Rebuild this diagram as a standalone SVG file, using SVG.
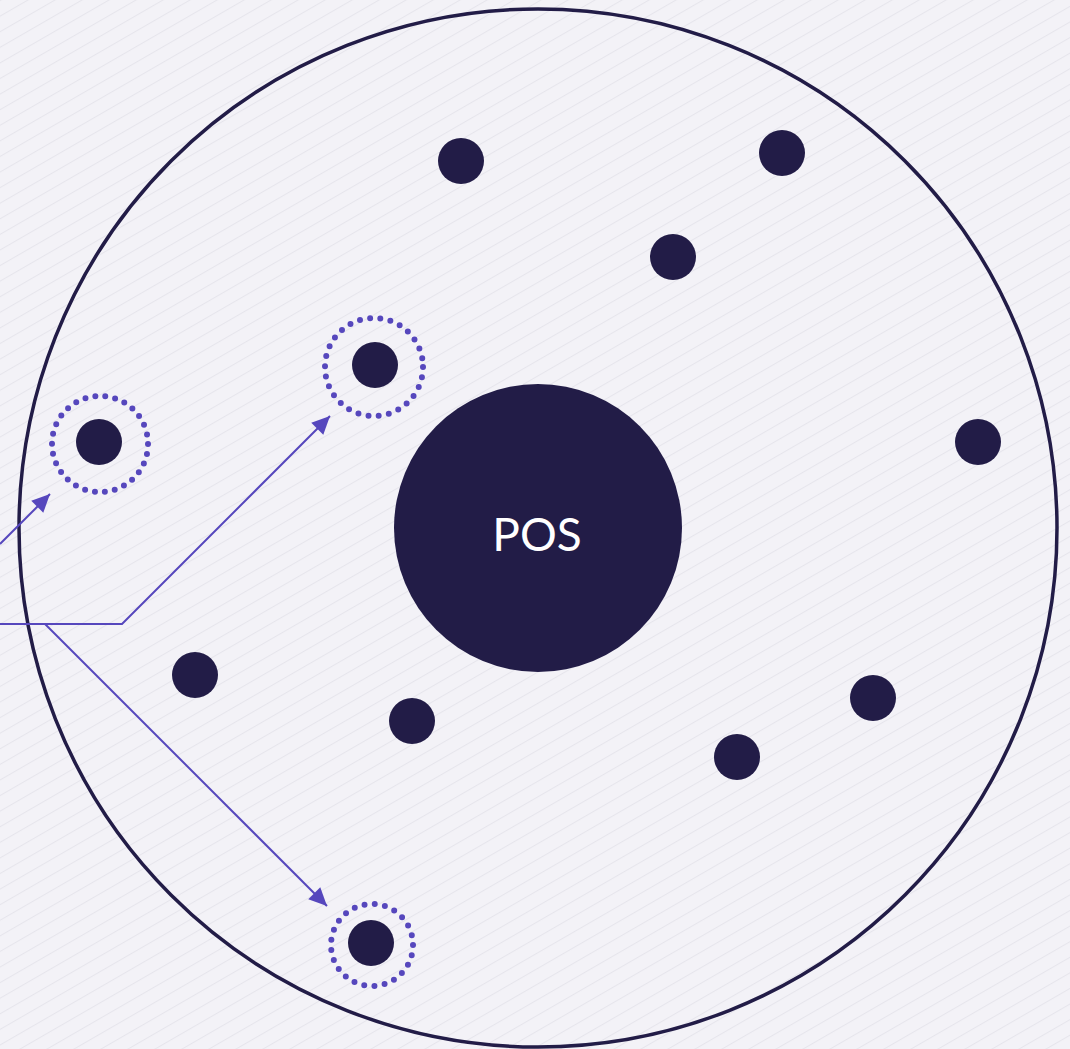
<svg xmlns="http://www.w3.org/2000/svg" width="1070" height="1049" viewBox="0 0 1070 1049">
  <defs>
    <!-- faint diagonal hatching for the backdrop -->
    <pattern id="hatch" patternUnits="userSpaceOnUse" width="20" height="13.5" patternTransform="rotate(-30)">
      <rect width="20" height="13.5" fill="#f3f2f7"/>
      <line x1="0" y1="0.5" x2="20" y2="0.5" stroke="#e6e5ec" stroke-width="1"/>
    </pattern>
    <marker id="arrow" viewBox="0 0 10 10" refX="10" refY="5" markerWidth="10" markerHeight="10" markerUnits="userSpaceOnUse" orient="auto" overflow="visible">
      <path d="M-8,-3.5 L10,5 L-8,13.5 Z" fill="#5647bd"/>
    </marker>
    <style>
      .dot { fill: #221c47; }
      .ring { fill: none; stroke: #5647bd; stroke-width: 6; stroke-linecap: round; }
      .link { fill: none; stroke: #5647bd; stroke-width: 2; }
      .label { font-family: "Lato", "Noto Sans", sans-serif; font-size: 46px; fill: #ffffff; text-anchor: middle; }
    </style>
  </defs>

  <rect width="1070" height="1049" fill="url(#hatch)"/>

  <!-- outer boundary -->
  <g id="boundary">
    <circle cx="538" cy="528" r="519" fill="none" stroke="#221c47" stroke-width="3.5"/>
  </g>

  <!-- central POS node -->
  <g id="pos">
    <circle cx="538" cy="528" r="144" class="dot"/>
    <text x="537" y="551" class="label">POS</text>
  </g>

  <!-- surrounding points -->
  <g id="p1"><circle cx="461" cy="161" r="23" class="dot"/></g>
  <g id="p2"><circle cx="782" cy="153" r="23" class="dot"/></g>
  <g id="p3"><circle cx="673" cy="257" r="23" class="dot"/></g>
  <g id="p4">
    <circle cx="374" cy="367" r="49" class="ring" stroke-dasharray="0 10.3"/>
    <circle cx="375" cy="365" r="23" class="dot"/>
  </g>
  <g id="p5">
    <circle cx="100" cy="444" r="48" class="ring" stroke-dasharray="0 10.05"/>
    <circle cx="99" cy="442" r="23" class="dot"/>
  </g>
  <g id="p6"><circle cx="978" cy="442" r="23" class="dot"/></g>
  <g id="p7"><circle cx="195" cy="675" r="23" class="dot"/></g>
  <g id="p8"><circle cx="412" cy="721" r="23" class="dot"/></g>
  <g id="p9"><circle cx="873" cy="698" r="23" class="dot"/></g>
  <g id="p10"><circle cx="737" cy="757" r="23" class="dot"/></g>
  <g id="p11">
    <circle cx="372" cy="945" r="41" class="ring" stroke-dasharray="0 10.3"/>
    <circle cx="371" cy="943" r="23" class="dot"/>
  </g>

  <!-- connectors -->
  <g id="connectors">
    <path d="M0,624 H122 L330,416" class="link" marker-end="url(#arrow)"/>
    <path d="M45,624 L327,906" class="link" marker-end="url(#arrow)"/>
    <path d="M0,544 L50,494" class="link" marker-end="url(#arrow)"/>
  </g>
</svg>
